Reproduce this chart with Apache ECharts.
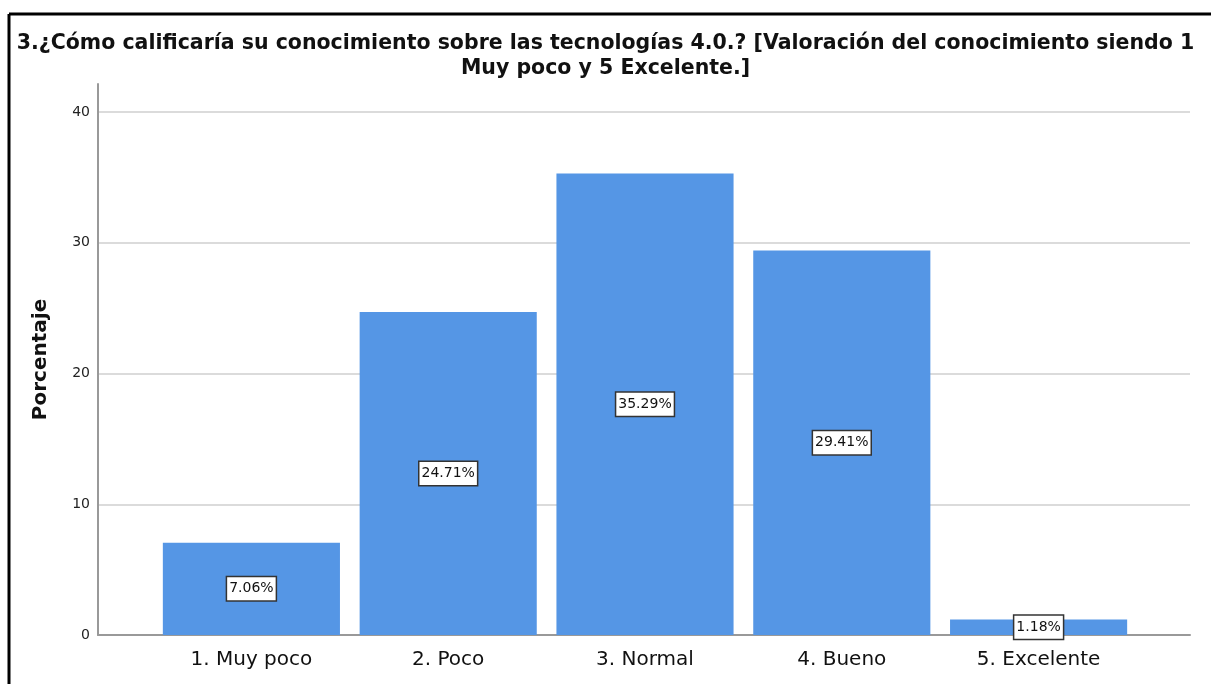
<!DOCTYPE html>
<html>
<head>
<meta charset="utf-8">
<script src="https://cdn.jsdelivr.net/npm/echarts@6/dist/echarts.min.js"></script>
<style>
  html, body { margin: 0; padding: 0; background: #fff; }
  #chart { width: 1211px; height: 684px; }
</style>
</head>
<body>
<div id="chart"></div>
<script>
var categories = ['1. Muy poco', '2. Poco', '3. Normal', '4. Bueno', '5. Excelente'];
var percentages = [7.06, 24.71, 35.29, 29.41, 1.18];
var titleLines = ['3.¿Cómo calificaría su conocimiento sobre las tecnologías 4.0.? [Valoración del conocimiento siendo 1',
  'Muy poco y 5 Excelente.]'];

var fontName = 'DejaVu Sans';
var axisTop = 42.14; // axis line runs a bit past the 40 gridline
var chart = echarts.init(document.getElementById('chart'));

chart.setOption({
  animation: false,
  backgroundColor: '#fff',
  title: {
    text: titleLines.join('\n'),
    left: 'center',
    top: 26,
    textStyle: {
      fontFamily: fontName,
      fontSize: 20.5,
      fontWeight: 'bold',
      color: '#111',
      lineHeight: 25
    }
  },
  graphic: [
    // frame on the top and left, like the original screenshot
    { type: 'line', shape: { x1: 9, y1: 14, x2: 1211, y2: 14 }, style: { stroke: '#000', lineWidth: 3 } },
    { type: 'line', shape: { x1: 9, y1: 14, x2: 9, y2: 684 }, style: { stroke: '#000', lineWidth: 3 } }
  ],
  grid: [
    // axis lines
    { left: 98, right: 21, top: 84, bottom: 49 },
    // gridlines + tick labels, 0..40
    { left: 98, right: 21, top: 112, bottom: 49 },
    // bars sit inside with padding at both sides
    { left: 153, right: 74, top: 84, bottom: 49 }
  ],
  xAxis: [
    {
      gridIndex: 0, type: 'value', min: 0, max: 1,
      axisLine: { show: true, onZero: false, lineStyle: { color: '#999', width: 2 } },
      axisTick: { show: false }, axisLabel: { show: false }, splitLine: { show: false }
    },
    {
      gridIndex: 1, type: 'value', min: 0, max: 1, show: false
    },
    {
      gridIndex: 2, type: 'category', data: categories,
      axisLine: { show: false }, axisTick: { show: false },
      axisLabel: { fontFamily: fontName, fontSize: 20, color: '#111', margin: 15 }
    }
  ],
  yAxis: [
    {
      gridIndex: 0, type: 'value', min: 0, max: axisTop,
      name: 'Porcentaje', nameLocation: 'middle', nameGap: 47, nameRotate: 90,
      nameTextStyle: { fontFamily: fontName, fontSize: 20, fontWeight: 'bold', color: '#111' },
      axisLine: { show: true, lineStyle: { color: '#999', width: 2 } },
      axisTick: { show: false }, axisLabel: { show: false }, splitLine: { show: false }
    },
    {
      gridIndex: 1, type: 'value', min: 0, max: 40, interval: 10,
      axisLine: { show: false }, axisTick: { show: false },
      axisLabel: { fontFamily: fontName, fontSize: 14, color: '#222', margin: 8 },
      splitLine: { show: true, lineStyle: { color: '#cfcfcf', width: 1.5 } }
    },
    {
      gridIndex: 2, type: 'value', min: 0, max: axisTop,
      axisLine: { show: false }, axisTick: { show: false }, axisLabel: { show: false },
      splitLine: { show: false }
    }
  ],
  series: [{
    type: 'bar',
    xAxisIndex: 2,
    yAxisIndex: 2,
    data: percentages,
    barCategoryGap: '10%',
    itemStyle: { color: '#5596e5' },
    label: {
      show: true,
      position: 'inside',
      formatter: function (p) { return p.value.toFixed(2) + '%'; },
      fontFamily: fontName,
      fontSize: 14,
      color: '#111',
      backgroundColor: '#fff',
      borderColor: '#333',
      borderWidth: 1.5,
      padding: [5, 2, 4, 2]
    }
  }]
});
</script>
</body>
</html>
